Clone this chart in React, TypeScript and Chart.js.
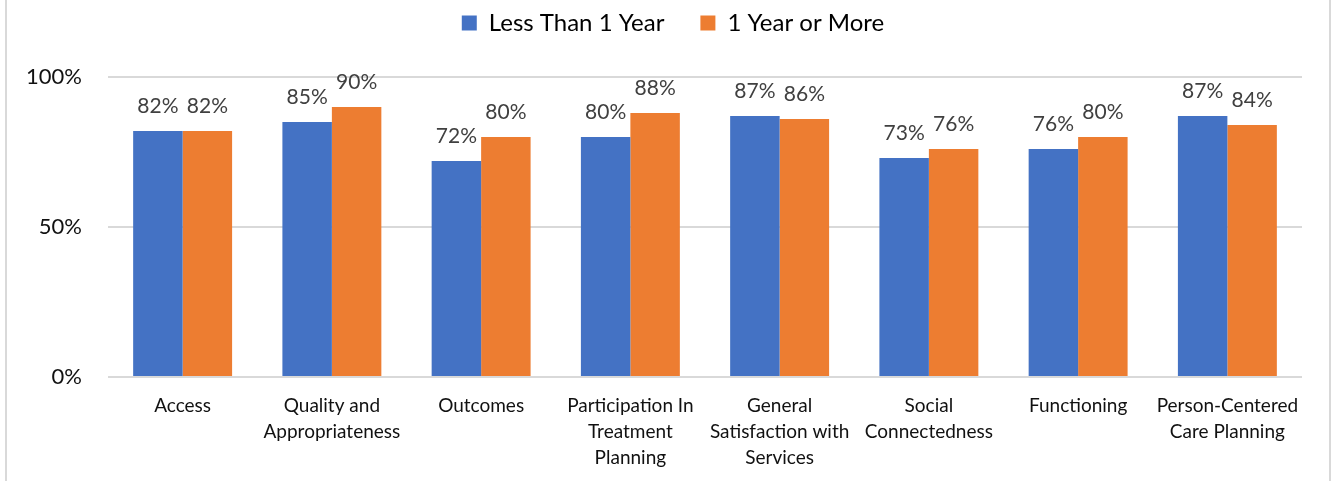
import React, { useEffect, useRef } from "react";
import { Chart, registerables } from "chart.js";

Chart.register(...registerables);

const categories: (string | string[])[] = [
  "Access",
  ["Quality and", "Appropriateness"],
  "Outcomes",
  ["Participation In", "Treatment", "Planning"],
  ["General", "Satisfaction with", "Services"],
  ["Social", "Connectedness"],
  "Functioning",
  ["Person-Centered", "Care Planning"],
];
const seriesNames = ["Less Than 1 Year", "1 Year or More"];
const lessThanOneYear = [82, 85, 72, 80, 87, 73, 76, 87];
const oneYearOrMore = [82, 90, 80, 88, 86, 76, 80, 84];
const yTicks = [0, 50, 100];

const BLUE = "#4472C4";
const ORANGE = "#ED7D31";
const FONT = "Lato, 'Open Sans', sans-serif";

const LAYOUT_TOP = -25;
const LEGEND_SHIFT = 22;

const dataLabels = {
  id: "dataLabels",
  afterDatasetsDraw(chart: any) {
    const ctx = chart.ctx;
    ctx.save();
    ctx.font = `21px ${FONT}`;
    ctx.fillStyle = "#404040";
    ctx.textAlign = "center";
    ctx.textBaseline = "alphabetic";
    chart.data.datasets.forEach((ds: any, di: number) => {
      const meta = chart.getDatasetMeta(di);
      meta.data.forEach((bar: any, i: number) => {
        ctx.fillText(`${ds.data[i]}%`, bar.x, bar.y - 18);
      });
    });
    ctx.restore();
  },
};

const legendLayout = {
  id: "legendLayout",
  beforeInit(chart: any) {
    const orig = chart.legend.fit;
    chart.legend.fit = function () {
      orig.call(this);
      this.height = 77 - LAYOUT_TOP;
    };
  },
  afterLayout(chart: any) {
    chart.legend.left += LEGEND_SHIFT;
    chart.legend.right += LEGEND_SHIFT;
  },
};

export default function App() {
  const ref = useRef<HTMLCanvasElement | null>(null);
  useEffect(() => {
    document.body.style.margin = "0";
    const chart = new Chart(ref.current as HTMLCanvasElement, {
      type: "bar",
      data: {
        labels: categories as any,
        datasets: [
          { label: seriesNames[0], data: lessThanOneYear, backgroundColor: BLUE },
          { label: seriesNames[1], data: oneYearOrMore, backgroundColor: ORANGE },
        ],
      },
      options: {
        animation: false,
        responsive: false,
        maintainAspectRatio: false,
        layout: { padding: { left: 0, right: 30, top: LAYOUT_TOP, bottom: 0 } },
        datasets: {
          bar: { categoryPercentage: 0.663, barPercentage: 1 },
        },
        plugins: {
          tooltip: { enabled: false },
          legend: {
            position: "top",
            labels: {
              boxWidth: 15,
              boxHeight: 15,
              padding: 36,
              color: "#000000",
              font: { family: FONT, size: 24 },
            },
          },
        },
        scales: {
          x: {
            grid: { display: false, drawTicks: false },
            border: { display: false },
            ticks: {
              color: "#111111",
              font: { family: FONT, size: 19, lineHeight: 1.37 },
              padding: 16,
              maxRotation: 0,
              autoSkip: false,
            },
            afterFit(scale: any) {
              scale.height = 104;
            },
          },
          y: {
            min: 0,
            max: 100,
            afterBuildTicks(scale: any) {
              scale.ticks = yTicks.map((v) => ({ value: v }));
            },
            grid: { color: "#d9d9d9", lineWidth: 2, drawTicks: false },
            border: { display: false },
            ticks: {
              color: "#111111",
              font: { family: FONT, size: 22 },
              padding: 26,
              callback: (v: any) => `${v}%`,
            },
            afterFit(scale: any) {
              scale.width = 108;
            },
          },
        },
      },
      plugins: [dataLabels, legendLayout],
    });
    return () => chart.destroy();
  }, []);
  return (
    <div style={{ position: "absolute", left: 0, top: 0, width: 1332, height: 481, background: "#fff" }}>
      <canvas ref={ref} width={1332} height={481} style={{ position: "absolute", left: 0, top: 0 }} />
      <div
        style={{
          position: "absolute",
          left: 5,
          top: 0,
          width: 1322,
          height: 481,
          borderLeft: "2px solid #d9d9d9",
          borderRight: "2px solid #d9d9d9",
          pointerEvents: "none",
        }}
      />
    </div>
  );
}
